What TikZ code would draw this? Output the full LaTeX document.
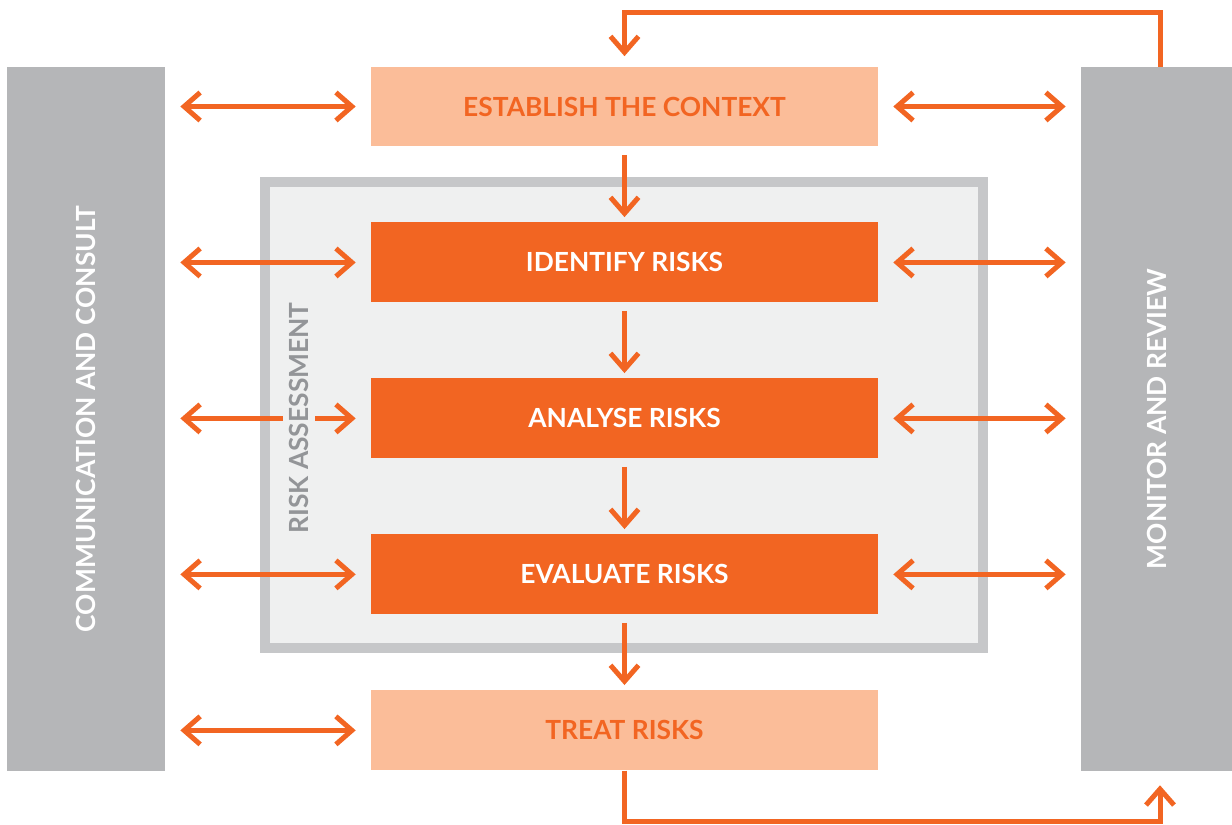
\documentclass[tikz,border=0pt]{standalone}
\usepackage{fontspec}
\setmainfont{Lato}
\usepackage{xcolor}
\usetikzlibrary{positioning,arrows.meta}

\definecolor{riskorange}{HTML}{F26522}
\definecolor{riskpeach}{HTML}{FBBD99}
\definecolor{riskgrey}{HTML}{B5B6B8}
\definecolor{riskframe}{HTML}{C6C7C9}
\definecolor{riskpanel}{HTML}{EFF0F0}
\definecolor{risklabel}{HTML}{939598}

\newcommand{\stagefont}{\bfseries\fontsize{15}{17}\selectfont}

\tikzset{
  stage/.style={rectangle, fill=riskorange, text=white, inner sep=0pt,
    minimum width=10.14cm, minimum height=1.6cm, font=\stagefont},
  palestage/.style={stage, fill=riskpeach, text=riskorange},
  sidebar/.style={rectangle, fill=riskgrey, text=white, rotate=90, inner sep=0pt,
    minimum width=14.08cm, font=\stagefont},
  barb/.tip={Straight Barb[length=0.32cm, width=0.56cm]},
  flow/.style={draw=riskorange, line width=0.1cm, -barb},
  down/.style={flow, shorten <=0.16cm, shorten >=0.1cm},
  twoway/.style={flow, barb-barb, shorten <=0.3cm, shorten >=0.3cm}
}

\begin{document}
\begin{tikzpicture}[x=0.02cm, y=-0.02cm, node distance=3.12cm, on grid]

  \useasboundingbox (0,0) rectangle (1232,825);

  % risk assessment panel
  \node[draw=riskframe, line width=0.2cm, fill=riskpanel, minimum width=14.36cm,
    minimum height=9.32cm] (Assess) at (624,415) {};

  % side bars
  \node[sidebar, minimum height=3.16cm] (Comm) at (86,419) {COMMUNICATION AND CONSULT};
  \node[sidebar, minimum height=3.02cm] (Review) at (1156.5,419) {MONITOR AND REVIEW};

  % process steps
  \node[palestage] (Context) at (624.5,106.5) {ESTABLISH THE CONTEXT};
  \node[stage] (Identify) [below=of Context] {IDENTIFY RISKS};
  \node[stage] (Analyse) [below=of Identify] {ANALYSE RISKS};
  \node[stage] (Evaluate) [below=of Analyse] {EVALUATE RISKS};
  \node[palestage] (Treat) [below=of Evaluate] {TREAT RISKS};

  \path
    (Context) edge[down] (Identify)
    (Identify) edge[down] (Analyse)
    (Analyse) edge[down] (Evaluate)
    (Evaluate) edge[down] (Treat);

  \path
    (Comm.south |- Context) edge[twoway] (Context)
    (Comm.south |- Identify) edge[twoway] (Identify)
    (Comm.south |- Analyse) edge[twoway] (Analyse)
    (Comm.south |- Evaluate) edge[twoway] (Evaluate)
    (Comm.south |- Treat) edge[twoway] (Treat);

  \path
    (Context) edge[twoway] (Review.north |- Context)
    (Identify) edge[twoway] (Review.north |- Identify)
    (Analyse) edge[twoway] (Review.north |- Analyse)
    (Evaluate) edge[twoway] (Review.north |- Evaluate);

  % feedback loops
  \draw[flow, shorten >=0.2cm] ([xshift=0.07cm]Review.east) -- ++(0,-54) -| (Context.north);
  \draw[flow, shorten >=0.28cm] (Treat.south) -- ++(0,51) -| ([xshift=0.07cm]Review.west);

  \node[rotate=90, fill=riskpanel, text=risklabel, font=\stagefont, inner sep=0.12cm]
    (AssessLabel) at (299,418) {RISK ASSESSMENT};

\end{tikzpicture}
\end{document}
